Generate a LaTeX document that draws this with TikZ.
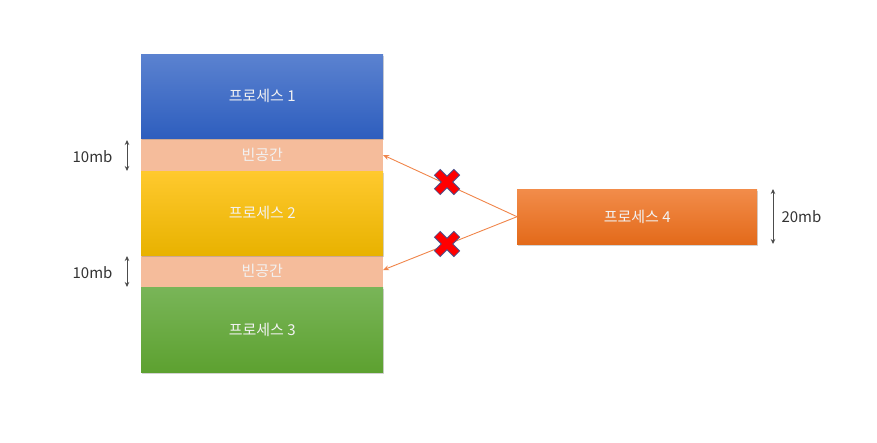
\documentclass[tikz,border=0pt]{standalone}
\usepackage{fontspec}
\setmainfont{Noto Sans CJK KR}
\usetikzlibrary{shadows,arrows.meta}
\definecolor{p1top}{HTML}{5B82D0}
\definecolor{p1bot}{HTML}{2E5EBE}
\definecolor{p2top}{HTML}{FFC92E}
\definecolor{p2bot}{HTML}{E8B200}
\definecolor{p3top}{HTML}{79B558}
\definecolor{p3bot}{HTML}{5DA130}
\definecolor{p4top}{HTML}{F28C4A}
\definecolor{p4bot}{HTML}{E36A1A}
\definecolor{gap}{HTML}{F5BC9B}
\definecolor{arr}{HTML}{F0854A}
\definecolor{xout}{HTML}{4A4E8A}
\tikzset{
  x=1pt,y=-1pt,
  procbox/.style={minimum width=242pt, inner sep=0pt, text=white!95!black, font=\fontsize{15}{18}\selectfont,
    drop shadow={shadow xshift=0.8pt, shadow yshift=-1.5pt, opacity=0.35}},
  gapbox/.style={fill=gap, minimum width=242pt, inner sep=0pt, text=white!95!black, font=\fontsize{15}{18}\selectfont},
  dimarrow/.style={{Stealth[length=5pt,width=4.5pt]}-{Stealth[length=5pt,width=4.5pt]}, draw=black!70, line width=0.8pt},
  dimlabel/.style={font=\fontsize{15}{18}\selectfont, text=black!80},
  conn/.style={draw=arr, line width=0.9pt, -{Stealth[length=6pt,width=5pt]}},
}
\begin{document}
\begin{tikzpicture}
\useasboundingbox (0,0) rectangle (877,443);
% empty spaces
\node[gapbox, minimum height=33pt, anchor=north west] (g1) at (141,138) {빈공간};
\node[gapbox, minimum height=32pt, anchor=north west] (g2) at (141,255) {빈공간};
% processes
\node[procbox, minimum height=84pt, anchor=north west, top color=p1top, bottom color=p1bot] (p1) at (141,54) {프로세스 1};
\node[procbox, minimum height=84pt, anchor=north west, top color=p2top, bottom color=p2bot] (p2) at (141,171) {프로세스 2};
\node[procbox, minimum height=85pt, anchor=north west, top color=p3top, bottom color=p3bot] (p3) at (141,287) {프로세스 3};
\node[procbox, minimum width=240pt, minimum height=55pt, anchor=north west, top color=p4top, bottom color=p4bot] (p4) at (517,189) {프로세스 4};
% connectors
\coordinate (t1) at (383,155);
\coordinate (t2) at (383,270);
\draw[conn] (p4.west) -- (t1);
\draw[conn] (p4.west) -- (t2);
% X marks
\foreach \n/\cx/\cy in {xa/447/182, xb/447/244}{
  \coordinate (\n) at (\cx,\cy);
  \draw[xout, line width=9pt] ([shift={(-10,-10)}]\n) -- ([shift={(10,10)}]\n) ([shift={(-10,10)}]\n) -- ([shift={(10,-10)}]\n);
  \draw[red, line width=7pt] ([shift={(-9.4,-9.4)}]\n) -- ([shift={(9.4,9.4)}]\n) ([shift={(-9.4,9.4)}]\n) -- ([shift={(9.4,-9.4)}]\n);
}
% dimension arrows
\coordinate (d1a) at (127,140);
\coordinate (d1b) at (127,171);
\coordinate (d2a) at (127,256);
\coordinate (d2b) at (127,287);
\coordinate (d3a) at (773,189);
\coordinate (d3b) at (773,244);
\draw[dimarrow] (d1a) -- (d1b);
\draw[dimarrow] (d2a) -- (d2b);
\draw[dimarrow] (d3a) -- (d3b);
\node[dimlabel, anchor=east] (l1) at (116,157) {10mb};
\node[dimlabel, anchor=east] (l2) at (116,273) {10mb};
\node[dimlabel, anchor=west] (l3) at (778,217) {20mb};
\end{tikzpicture}
\end{document}
